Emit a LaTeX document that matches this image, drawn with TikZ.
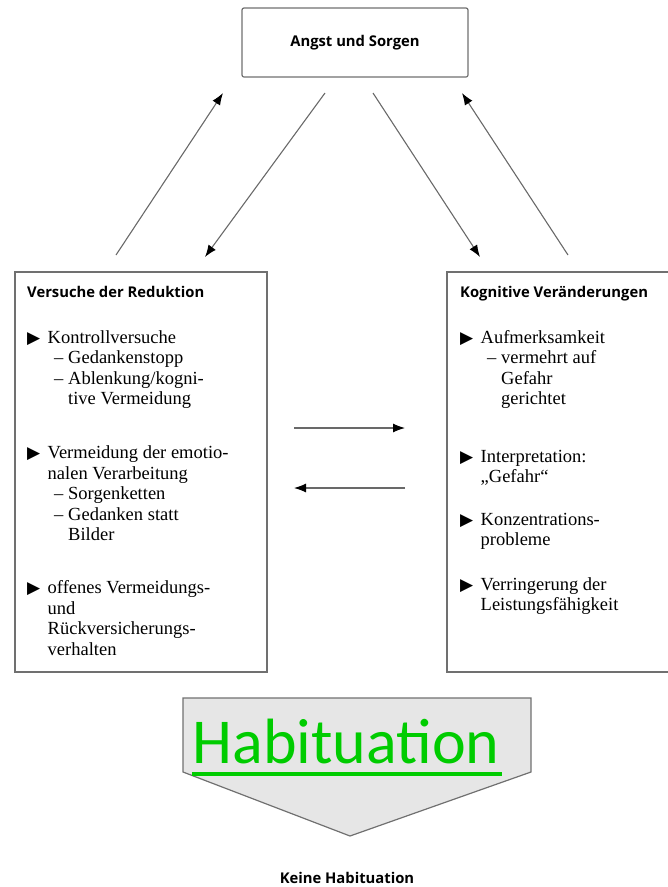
\documentclass[tikz,border=0pt]{standalone}
\usepackage{fontspec}
\setmainfont{Liberation Serif}
\newfontfamily\headfont{Open Sans}
\newfontfamily\habfont{Carlito}
\newfontfamily\symbfont{DejaVu Sans}
\usetikzlibrary{arrows.meta}

\definecolor{rahmen}{RGB}{112,112,112}
\definecolor{pfeilgrau}{RGB}{105,105,105}
\definecolor{habgruen}{RGB}{0,204,0}
\definecolor{flaeche}{RGB}{230,230,230}

\newcommand{\kopffont}{\headfont\bfseries\fontsize{14.8}{17}\selectfont}
\newcommand{\tri}{{\symbfont\fontsize{17}{17}\selectfont ▶}}
\newcommand{\bul}[1]{\makebox[20.5pt][l]{\tri}#1}
\newcommand{\dsh}[1]{\hspace*{27pt}\makebox[14pt][l]{--}#1}
\newcommand{\ein}{\hspace*{20.5pt}}
\newcommand{\einn}{\hspace*{41pt}}

\tikzstyle{box}=[draw=rahmen,line width=1.2pt,inner sep=0]
\tikzstyle{txt}=[align=left,inner sep=0,anchor=base west,font=\fontsize{18.5}{20.5}\selectfont]
\tikzstyle{kopf}=[inner sep=0,font=\kopffont]
\tikzstyle{pfeil}=[draw=pfeilgrau,line width=1.1pt,-{Latex[black,length=12pt,width=9pt]}]

\begin{document}
\begin{tikzpicture}[x=1pt,y=-1pt]
	\useasboundingbox (0,0) rectangle (668,887);
	\clip (0,0) rectangle (668,887);

                        % boxes
                        \node[box,rounded corners=2pt,minimum width=226pt,minimum height=69pt] (angst) at (355,42.5) {};
                        \node[kopf] (angsttxt) at (355,43) {Angst und Sorgen};
                        \node[box,minimum width=252pt,minimum height=400pt] (reduktion) at (141,472) {};
                        \node[box,minimum width=233pt,minimum height=400pt] (kognitiv) at (563.5,472) {};

                        % anchored at the last line
                        \node[txt] (reduktiontxt) at (27,655) {{\kopffont Versuche der Reduktion}\\[25.5pt]
                        \bul{Kontrollversuche}\\
                        \dsh{Gedankenstopp}\\
                        \dsh{Ablenkung/kogni-}\\
                        \einn tive Vermeidung\\[33.5pt]
                        \bul{Vermeidung der emotio-}\\
                        \ein nalen Verarbeitung\\
                        \dsh{Sorgenketten}\\
                        \dsh{Gedanken statt}\\
                        \einn Bilder\\[32.5pt]
                        \bul{offenes Vermeidungs-}\\
                        \ein und\\
                        \ein Rückversicherungs-\\
                        \ein verhalten};

                        \node[txt] (kognitivtxt) at (460,610.5) {{\kopffont Kognitive Veränderungen}\\[25.5pt]
                        \bul{Aufmerksamkeit}\\
                        \dsh{vermehrt auf}\\
                        \einn Gefahr\\
                        \einn gerichtet\\[37pt]
                        \bul{Interpretation:}\\
                        \ein „Gefahr“\\[22pt]
                        \bul{Konzentrations-}\\
                        \ein probleme\\[24pt]
                        \bul{Verringerung der}\\
                        \ein Leistungsfähigkeit};

                        % arrow ends
                        \coordinate (l1) at (116,255);
                        \coordinate (l2) at (223,93);
                        \coordinate (m1) at (325,93);
                        \coordinate (m2) at (205,257);
                        \coordinate (n1) at (373,93);
                        \coordinate (n2) at (480,257);
                        \coordinate (r1) at (568,255);
                        \coordinate (r2) at (462,93);
                        \coordinate (h1) at (294,428);
                        \coordinate (h2) at (405,428);
                        \coordinate (k1) at (405,488);
                        \coordinate (k2) at (294,488);

                        \draw[pfeil] (l1) -- (l2);
                        \draw[pfeil] (m1) -- (m2);
                        \draw[pfeil] (n1) -- (n2);
                        \draw[pfeil] (r1) -- (r2);
                        \draw[pfeil] (h1) -- (h2);
                        \draw[pfeil] (k1) -- (k2);

                        % habituation
                        \draw[draw=rahmen,line width=1.2pt,fill=flaeche]
                        (183,698) -- (531,698) -- (531,772) -- (350,836) -- (183,772) -- cycle;
                        \node[inner sep=0,anchor=base,text=habgruen,font=\habfont\fontsize{64}{64}\selectfont] (hab) at (346,763) {Habituation};
                        \draw[habgruen,line width=3.5pt] (192,774) -- (502,774);

                        \node[kopf,anchor=base] (keine) at (347,883) {Keine Habituation};

    \end{tikzpicture}
\end{document}
